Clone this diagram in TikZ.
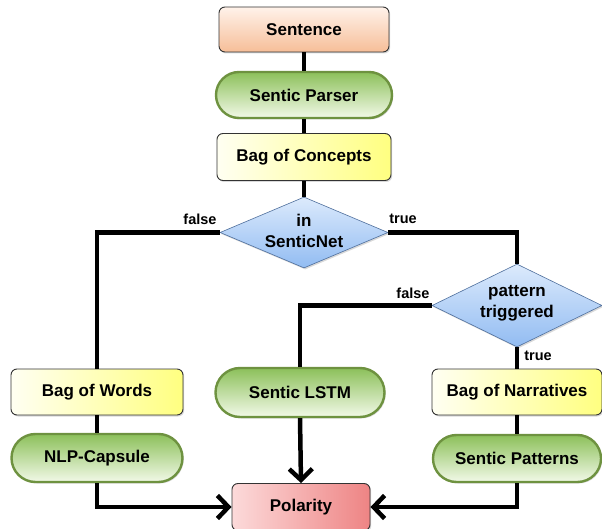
\documentclass[tikz,border=0pt]{standalone}
\usepackage{fontspec}
\setmainfont{Liberation Sans}
\usetikzlibrary{shapes.geometric,shapes.misc,arrows.meta,shadows}
\definecolor{peachT}{HTML}{FFF2EA}
\definecolor{peachB}{HTML}{F6BE98}
\definecolor{greenT}{HTML}{8CC05A}
\definecolor{greenB}{HTML}{F2F9E8}
\definecolor{greenD}{HTML}{6E9240}
\definecolor{yelL}{HTML}{FFFFF2}
\definecolor{yelR}{HTML}{FFFF80}
\definecolor{blueT}{HTML}{DCEAFC}
\definecolor{blueB}{HTML}{92BCF2}
\definecolor{blueD}{HTML}{4F6F9C}
\definecolor{pinkL}{HTML}{FCDADA}
\definecolor{pinkR}{HTML}{EE8484}
\definecolor{edge}{HTML}{333333}
\tikzset{
  lbl/.style={font=\fontsize{17}{21}\selectfont\bfseries, align=center, inner sep=0pt},
  shad/.style={drop shadow={opacity=0.3, shadow xshift=1.2pt, shadow yshift=-1.5pt}},
  boxnode/.style={lbl, rectangle, rounded corners=6pt, draw=edge, line width=0.9pt, shad},
  pill/.style={lbl, rounded rectangle, draw=greenD, line width=2.4pt, top color=greenT, bottom color=greenB, shad},
  yellowbox/.style={boxnode, left color=yelL, right color=yelR},
  decision/.style={diamond, inner sep=0pt, draw=blueD, line width=0.6pt, top color=blueT, bottom color=blueB, shad},
  conn/.style={line width=4.5pt, black},
  arr/.style={conn, -{Straight Barb[length=11pt,width=23pt]}},
  edgelbl/.style={font=\fontsize{14.5}{16}\selectfont\bfseries, inner sep=0pt}
}
\begin{document}
\begin{tikzpicture}[x=1pt,y=-1pt]
\useasboundingbox (0,0) rectangle (602,529);
\node[boxnode, top color=peachT, bottom color=peachB, minimum width=170pt, minimum height=45pt] (sent) at (304,29.5) {Sentence};
\node[pill, minimum width=176pt, minimum height=46pt] (parser) at (304,95) {Sentic Parser};
\node[yellowbox, minimum width=174pt, minimum height=47pt] (boc) at (304,157) {Bag of Concepts};
\node[decision, minimum width=168pt, minimum height=71pt] (d1) at (304,232.5) {};
\node[lbl] (d1t) at (304,231) {in\\SenticNet};
\node[decision, minimum width=170pt, minimum height=83pt] (d2) at (517,305.5) {};
\node[lbl] (d2t) at (517,303) {pattern\\triggered};
\node[yellowbox, minimum width=172pt, minimum height=46pt] (bow) at (97,392) {Bag of Words};
\node[pill, minimum width=171pt, minimum height=48pt] (nlp) at (97,458) {NLP-Capsule};
\node[pill, minimum width=169pt, minimum height=49pt] (lstm) at (300,392.5) {Sentic LSTM};
\node[yellowbox, minimum width=170pt, minimum height=46pt] (bon) at (517,392) {Bag of Narratives};
\node[pill, minimum width=168pt, minimum height=47pt] (sp) at (517,458.5) {Sentic Patterns};
\node[boxnode, left color=pinkL, right color=pinkR, minimum width=138pt, minimum height=47pt] (pol) at (301,507) {Polarity};
\draw[conn] (sent.south) -- (parser.north);
\draw[conn] (parser.south) -- (boc.north);
\draw[conn] (boc.south) -- (d1.north);
\draw[conn] (d1.west) -| (bow.north);
\draw[conn] (d1.east) -| (d2.north);
\draw[conn] (d2.west) -| (lstm.north);
\draw[conn] (d2.south) -- (bon.north);
\draw[conn] (bow.south) -- (nlp.north);
\draw[conn] (bon.south) -- (sp.north);
\draw[arr] (nlp.south) |- (pol.west);
\draw[arr] (lstm.south) -- (pol.north);
\draw[arr] (sp.south) |- (pol.east);
\node[edgelbl] (f1) at (200,219) {false};
\node[edgelbl] (t1) at (403,219) {true};
\node[edgelbl] (f2) at (413,293) {false};
\node[edgelbl] (t2) at (538,356) {true};
\end{tikzpicture}
\end{document}
